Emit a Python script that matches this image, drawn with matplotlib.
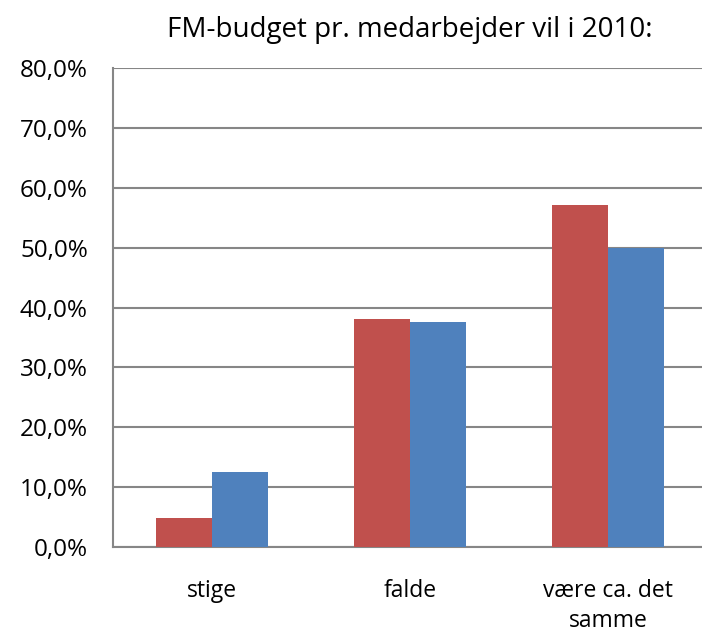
import numpy as np
import matplotlib.pyplot as plt
from matplotlib.ticker import FuncFormatter

categories = ['stige', 'falde', 'være ca. det\nsamme']
red_values = [0.048, 0.381, 0.571]
blue_values = [0.125, 0.375, 0.500]
title = 'FM-budget pr. medarbejder vil i 2010:'

plt.rcParams['font.family'] = ['Open Sans', 'DejaVu Sans']

fig = plt.figure(figsize=(7.02, 6.32), dpi=100)
ax = fig.add_axes([113 / 702, 85.3 / 632, 594 / 702, 478.4 / 632])

x = np.arange(len(categories))
w = 0.285
ax.bar(x - w / 2, red_values, w, color='#C0504D', zorder=3)
ax.bar(x + w / 2, blue_values, w, color='#4F81BD', zorder=3)

ax.set_xlim(-0.5, 2.5)
ax.set_ylim(0, 0.8)
ax.set_yticks(np.arange(0, 0.81, 0.1))
ax.yaxis.set_major_formatter(FuncFormatter(lambda v, p: f'{v * 100:.1f}%'.replace('.', ',')))
ax.set_xticks(x)
ax.set_xticklabels(categories, fontsize=16.5, linespacing=1.35)
ax.tick_params(axis='y', length=0, pad=18, labelsize=17.5)
ax.tick_params(axis='x', length=0, pad=23)
ax.grid(axis='y', color='#868686', linewidth=1.5, zorder=0)

for s in ['top', 'right']:
    ax.spines[s].set_visible(False)
for s in ['left', 'bottom']:
    ax.spines[s].set_color('#868686')
    ax.spines[s].set_linewidth(1.5)

fig.text(410 / 702, 1 - 30 / 632, title, ha='center', va='center', fontsize=20)

fig.savefig('out.png', dpi=100)
